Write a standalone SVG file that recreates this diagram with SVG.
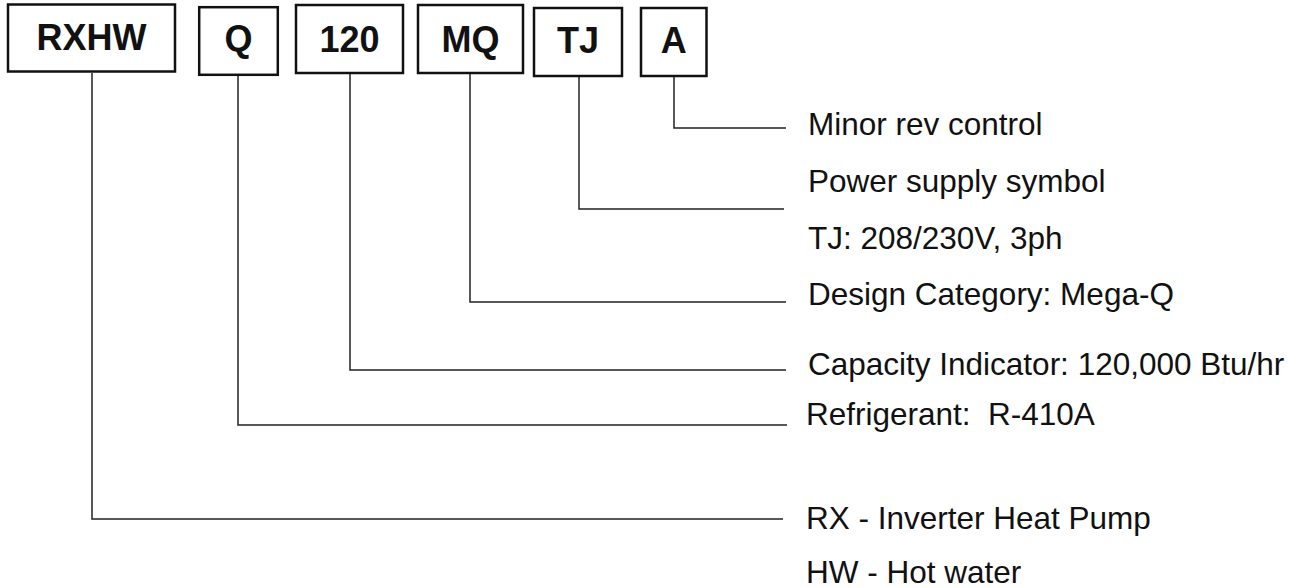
<svg xmlns="http://www.w3.org/2000/svg" width="1299" height="588" viewBox="0 0 1299 588">
<style>
.box{fill:#fff;stroke:#111;stroke-width:2.5}
.code{font-family:"Liberation Sans",Arial,sans-serif;font-weight:bold;font-size:36px;fill:#111;text-anchor:middle}
.lbl{font-family:"Liberation Sans",Arial,sans-serif;font-size:31.5px;fill:#111}
.con{fill:none;stroke:#222;stroke-width:1.5}
</style>
<rect width="1299" height="588" fill="#fff"/>
<g id="connectors">
<polyline class="con" points="674,77 674,128 786,128"/>
<polyline class="con" points="579,77 579,209 784,209"/>
<polyline class="con" points="470,74 470,302 786,302"/>
<polyline class="con" points="350,74 350,370 786,370"/>
<polyline class="con" points="238,76 238,425 787,425"/>
<polyline class="con" points="92,73 92,519 783,519"/>
</g>
<g id="node-RXHW"><rect class="box" x="8" y="4.5" width="167" height="67"/><text class="code" x="91.5" y="50">RXHW</text></g>
<g id="node-Q"><rect class="box" x="199.2" y="7.2" width="78.6" height="67.6"/><text class="code" x="238.5" y="51">Q</text></g>
<g id="node-120"><rect class="box" x="296" y="5" width="107" height="68"/><text class="code" x="349.5" y="51.5">120</text></g>
<g id="node-MQ"><rect class="box" x="418" y="5" width="105" height="68"/><text class="code" x="470.5" y="51.5">MQ</text></g>
<g id="node-TJ"><rect class="box" x="534" y="8" width="88" height="68"/><text class="code" x="578" y="53">TJ</text></g>
<g id="node-A"><rect class="box" x="641" y="8" width="65.5" height="68"/><text class="code" x="673.8" y="52.5">A</text></g>
<g id="labels">
<text class="lbl" x="808" y="135">Minor rev control</text>
<text class="lbl" x="808" y="192">Power supply symbol</text>
<text class="lbl" x="808" y="249">TJ: 208/230V, 3ph</text>
<text class="lbl" x="808" y="305">Design Category: Mega-Q</text>
<text class="lbl" x="808" y="375">Capacity Indicator: 120,000 Btu/hr</text>
<text class="lbl" x="806" y="425">Refrigerant: &#160;R-410A</text>
<text class="lbl" x="806" y="529">RX - Inverter Heat Pump</text>
<text class="lbl" x="806" y="583">HW - Hot water</text>
</g>
</svg>
